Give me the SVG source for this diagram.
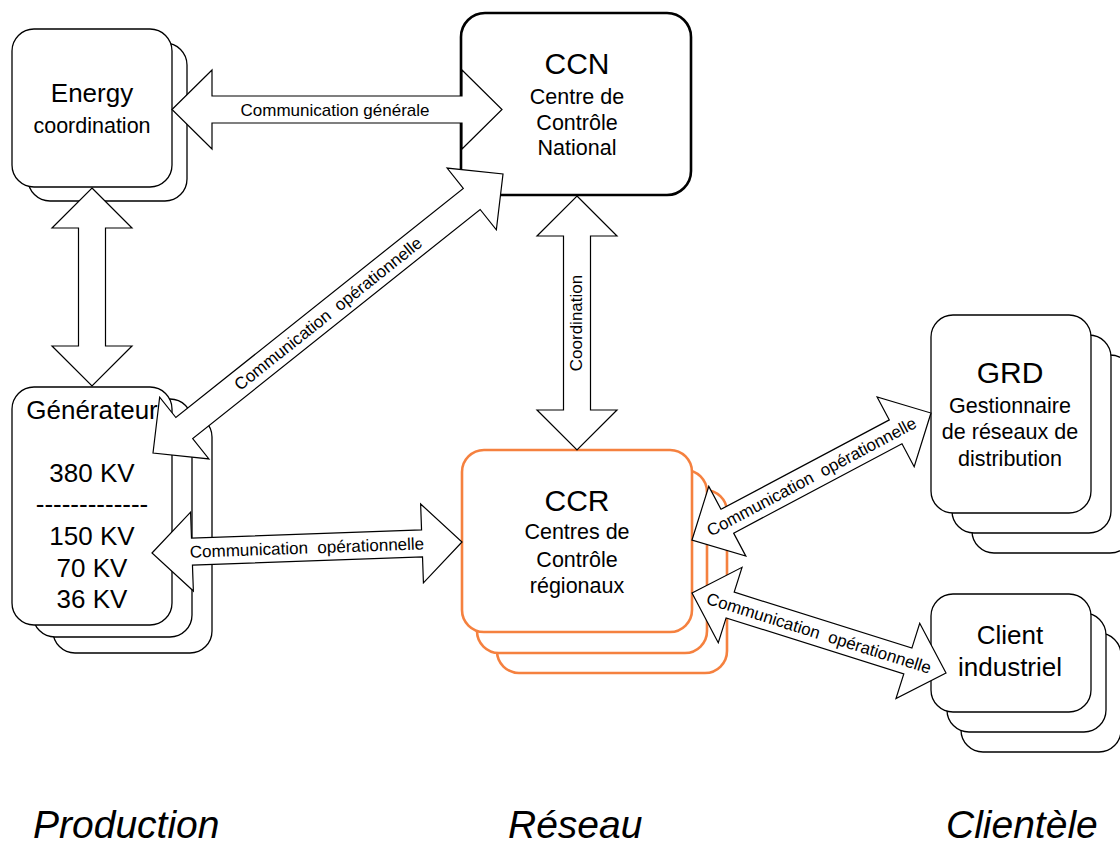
<svg xmlns="http://www.w3.org/2000/svg" width="1120" height="847" viewBox="0 0 1120 847">
<style>
  text { font-family: "Liberation Sans", Arial, sans-serif; fill: #000; }
  .box { fill: #fff; stroke: #000; stroke-width: 1.3; }
  .boxb { fill: #fff; stroke: #000; stroke-width: 2.6; }
  .boxo { fill: #fff; stroke: #F5813F; stroke-width: 2.6; }
  .arr { fill: #fff; stroke: #000; stroke-width: 1.2; stroke-linejoin: miter; }
  .t26 { font-size: 26px; text-anchor: middle; }
  .t30 { font-size: 30px; text-anchor: middle; }
  .t21 { font-size: 21.5px; text-anchor: middle; }
  .lbl { font-size: 17px; text-anchor: middle; }
  .zone { font-size: 39px; font-style: italic; }
</style>
<rect width="1120" height="847" fill="#fff"/>

<g id="energy">
  <rect class="box" x="28" y="43" width="159" height="158" rx="22"/>
  <rect class="box" x="12" y="29" width="160" height="158" rx="22"/>
  <text class="t26" x="92" y="102">Energy</text>
  <text class="t21" x="92" y="133">coordination</text>
</g>

<g id="generateur">
  <rect class="box" x="53" y="415" width="159" height="238" rx="22"/>
  <rect class="box" x="33" y="399" width="159" height="238" rx="22"/>
  <rect class="box" x="12" y="387" width="160" height="238" rx="22"/>
  <text class="t26" x="92" y="419">Générateur</text>
  <text class="t26" x="92" y="482">380 KV</text>
  <text class="t26" x="92" y="513">-------------</text>
  <text class="t26" x="92" y="545">150 KV</text>
  <text class="t26" x="92" y="577">70 KV</text>
  <text class="t26" x="92" y="608">36 KV</text>
</g>

<g id="ccn">
  <rect class="boxb" x="461" y="13" width="230" height="182" rx="24"/>
  <text class="t30" x="577" y="74">CCN</text>
  <text class="t21" x="577" y="104">Centre de</text>
  <text class="t21" x="577" y="130">Contrôle</text>
  <text class="t21" x="577" y="155">National</text>
</g>

<g id="ccr">
  <rect class="boxo" x="497" y="490" width="230" height="183" rx="22"/>
  <rect class="boxo" x="477" y="470" width="230" height="183" rx="22"/>
  <rect class="boxo" x="462" y="450" width="230" height="182" rx="22"/>
  <text class="t30" x="577" y="511">CCR</text>
  <text class="t21" x="577" y="539">Centres de</text>
  <text class="t21" x="577" y="567">Contrôle</text>
  <text class="t21" x="577" y="593">régionaux</text>
</g>

<g id="grd">
  <rect class="box" x="972" y="355" width="160" height="198" rx="22"/>
  <rect class="box" x="952" y="335" width="159" height="198" rx="22"/>
  <rect class="box" x="931" y="315" width="160" height="198" rx="22"/>
  <text class="t30" x="1010" y="383">GRD</text>
  <text class="t21" x="1010" y="413">Gestionnaire</text>
  <text class="t21" x="1010" y="439">de réseaux de</text>
  <text class="t21" x="1010" y="466">distribution</text>
</g>

<g id="client">
  <rect class="box" x="961" y="633" width="160" height="119" rx="22"/>
  <rect class="box" x="947" y="613" width="159" height="119" rx="22"/>
  <rect class="box" x="931" y="594" width="160" height="118" rx="22"/>
  <text class="t26" x="1010" y="644">Client</text>
  <text class="t26" x="1010" y="676">industriel</text>
</g>

<g id="connectors">
  <g transform="translate(172,109.5)">
    <path class="arr" d="M0,0 L40,-39.5 L40,-13.5 L290,-13.5 L290,-39.5 L330,0 L290,39.5 L290,13.5 L40,13.5 L40,39.5 Z"/>
    <text class="lbl" x="163" y="6">Communication générale</text>
  </g>
  <g transform="translate(92,188) rotate(90)">
    <path class="arr" d="M0,0 L40,-40 L40,-13.5 L158,-13.5 L158,-40 L198,0 L158,40 L158,13.5 L40,13.5 L40,40 Z"/>
  </g>
  <g transform="translate(577,196) rotate(90)">
    <path class="arr" d="M0,0 L40,-40 L40,-13.5 L214,-13.5 L214,-40 L254,0 L214,40 L214,13.5 L40,13.5 L40,40 Z"/>
  </g>
  <text class="lbl" transform="translate(582,323) rotate(-90)" x="0" y="0">Coordination</text>
  <g transform="translate(153,453) rotate(-38.56)">
    <path class="arr" d="M0,0 L40,-39.5 L40,-13.5 L407.6,-13.5 L407.6,-39.5 L447.6,0 L407.6,39.5 L407.6,13.5 L40,13.5 L40,39.5 Z"/>
    <text class="lbl" x="223.8" y="6" xml:space="preserve">Communication  opérationnelle</text>
  </g>
  <g transform="translate(152,553) rotate(-2.03)">
    <path class="arr" d="M0,0 L40,-39.5 L40,-13.5 L270.2,-13.5 L270.2,-39.5 L310.2,0 L270.2,39.5 L270.2,13.5 L40,13.5 L40,39.5 Z"/>
    <text class="lbl" x="155.1" y="6" xml:space="preserve">Communication  opérationnelle</text>
  </g>
  <g transform="translate(692,540) rotate(-27.98)">
    <path class="arr" d="M0,0 L40,-39.5 L40,-13.5 L230.6,-13.5 L230.6,-39.5 L270.6,0 L230.6,39.5 L230.6,13.5 L40,13.5 L40,39.5 Z"/>
    <text class="lbl" x="135.3" y="6" xml:space="preserve">Communication  opérationnelle</text>
  </g>
  <g transform="translate(692,593) rotate(17.48)">
    <path class="arr" d="M0,0 L40,-39.5 L40,-13.5 L226.3,-13.5 L226.3,-39.5 L266.3,0 L226.3,39.5 L226.3,13.5 L40,13.5 L40,39.5 Z"/>
    <text class="lbl" x="133.1" y="6" xml:space="preserve">Communication  opérationnelle</text>
  </g>
</g>

<g id="zones">
  <text class="zone" x="33" y="838">Production</text>
  <text class="zone" x="508" y="838">Réseau</text>
  <text class="zone" x="946" y="838">Clientèle</text>
</g>
</svg>
